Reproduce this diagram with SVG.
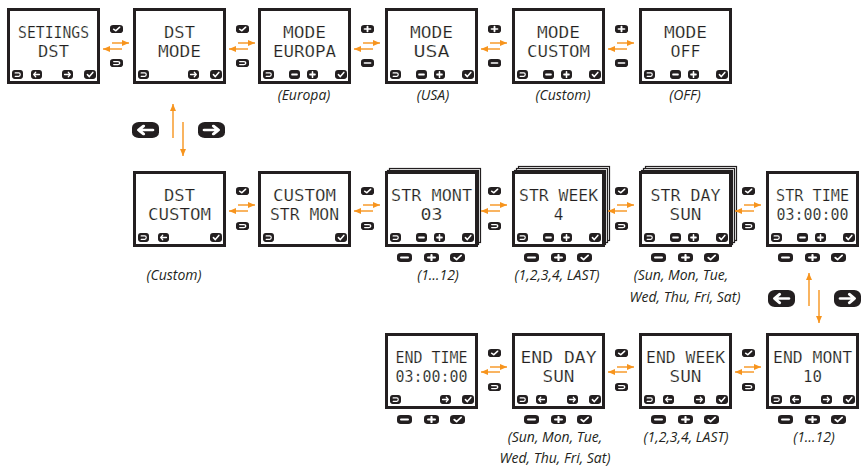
<svg xmlns="http://www.w3.org/2000/svg" width="863" height="468" viewBox="0 0 863 468">
<style>
.scr{fill:#fff;stroke:#231f20;stroke-width:3}
.lay{fill:#fff;stroke:#231f20;stroke-width:1.2}
.lcd{font-family:"DejaVu Sans Mono","Liberation Mono",monospace;font-size:16px;fill:#231f20;stroke:#fff;stroke-width:0.2;text-anchor:middle}
.lbl{font-family:"Open Sans","Liberation Sans",sans-serif;font-style:italic;font-size:14px;fill:#231f20;text-anchor:middle}
.ar{stroke:#F7941D;stroke-width:1.4;fill:none;marker-end:url(#ah)}
.wg{fill:none;stroke:#fff;stroke-linecap:round;stroke-linejoin:round}
</style>
<defs>
<marker id="ah" markerUnits="userSpaceOnUse" markerWidth="7" markerHeight="6" viewBox="0 0 7 6" refX="7" refY="3" orient="auto"><path d="M0,0 L7,3 L0,6 z" fill="#F7941D"/></marker>
<symbol id="i-back" viewBox="0 0 14 10" preserveAspectRatio="none"><rect width="14" height="10" rx="3.5" fill="#231f20"/><path class="wg" stroke-width="1.5" d="M4 3.2H8.6a1.9 1.9 0 0 1 0 3.8H4"/></symbol>
<symbol id="i-left" viewBox="0 0 14 10" preserveAspectRatio="none"><rect width="14" height="10" rx="3.5" fill="#231f20"/><path class="wg" stroke-width="1.6" d="M3.4 5H10.8M6 2.5 3.4 5 6 7.5"/></symbol>
<symbol id="i-right" viewBox="0 0 14 10" preserveAspectRatio="none"><rect width="14" height="10" rx="3.5" fill="#231f20"/><path class="wg" stroke-width="1.6" d="M3.2 5H10.6M8 2.5 10.6 5 8 7.5"/></symbol>
<symbol id="i-check" viewBox="0 0 14 10" preserveAspectRatio="none"><rect width="14" height="10" rx="3.5" fill="#231f20"/><path class="wg" stroke-width="1.8" d="M4 5.2 6.2 7.3 10.3 2.7"/></symbol>
<symbol id="i-minus" viewBox="0 0 14 10" preserveAspectRatio="none"><rect width="14" height="10" rx="3.5" fill="#231f20"/><path class="wg" stroke-width="2" d="M3.8 5H10.2"/></symbol>
<symbol id="i-plus" viewBox="0 0 14 10" preserveAspectRatio="none"><rect width="14" height="10" rx="3.5" fill="#231f20"/><path class="wg" stroke-width="2" d="M3.8 5H10.2M7 2V8"/></symbol>
</defs>

<!-- Row 1 -->
<g id="s1"><rect class="scr" x="8.5" y="9.5" width="90" height="73"/><text class="lcd" x="53.5" y="38" textLength="71" lengthAdjust="spacingAndGlyphs">SETIINGS</text><text class="lcd" x="53.5" y="57" textLength="31" lengthAdjust="spacingAndGlyphs">DST</text>
<use href="#i-back" x="12" y="70" width="11" height="9"/><use href="#i-left" x="31" y="70" width="11" height="9"/><use href="#i-right" x="62" y="70" width="11" height="9"/><use href="#i-check" x="84" y="70" width="12" height="9"/></g>
<g id="s2"><rect class="scr" x="134.5" y="9.5" width="90" height="73"/><text class="lcd" x="179.5" y="38" textLength="31" lengthAdjust="spacingAndGlyphs">DST</text><text class="lcd" x="179.5" y="57" textLength="43" lengthAdjust="spacingAndGlyphs">MODE</text>
<use href="#i-back" x="138" y="70" width="11" height="9"/><use href="#i-right" x="188" y="70" width="11" height="9"/><use href="#i-check" x="210" y="70" width="12" height="9"/></g>
<g id="s3"><rect class="scr" x="259.5" y="9.5" width="90" height="73"/><text class="lcd" x="304.5" y="38" textLength="43" lengthAdjust="spacingAndGlyphs">MODE</text><text class="lcd" x="304.5" y="57" textLength="63" lengthAdjust="spacingAndGlyphs">EUROPA</text>
<use href="#i-back" x="263" y="70" width="11" height="9"/><use href="#i-minus" x="289" y="70" width="11" height="9"/><use href="#i-plus" x="307" y="70" width="11" height="9"/><use href="#i-check" x="335" y="70" width="12" height="9"/>
<text class="lbl" x="304" y="100">(Europa)</text></g>
<g id="s4"><rect class="scr" x="386.5" y="9.5" width="90" height="73"/><text class="lcd" x="431.5" y="38" textLength="43" lengthAdjust="spacingAndGlyphs">MODE</text><text class="lcd" x="431.5" y="57" textLength="36" lengthAdjust="spacingAndGlyphs">USA</text>
<use href="#i-back" x="390" y="70" width="11" height="9"/><use href="#i-minus" x="416" y="70" width="11" height="9"/><use href="#i-plus" x="434" y="70" width="11" height="9"/><use href="#i-check" x="462" y="70" width="12" height="9"/>
<text class="lbl" x="433" y="100">(USA)</text></g>
<g id="s5"><rect class="scr" x="513.5" y="9.5" width="90" height="73"/><text class="lcd" x="558.5" y="38" textLength="43" lengthAdjust="spacingAndGlyphs">MODE</text><text class="lcd" x="558.5" y="57" textLength="63" lengthAdjust="spacingAndGlyphs">CUSTOM</text>
<use href="#i-back" x="517" y="70" width="11" height="9"/><use href="#i-minus" x="543" y="70" width="11" height="9"/><use href="#i-plus" x="561" y="70" width="11" height="9"/><use href="#i-check" x="589" y="70" width="12" height="9"/>
<text class="lbl" x="563" y="100">(Custom)</text></g>
<g id="s6"><rect class="scr" x="640.5" y="9.5" width="90" height="73"/><text class="lcd" x="685.5" y="38" textLength="43" lengthAdjust="spacingAndGlyphs">MODE</text><text class="lcd" x="685.5" y="57" textLength="30" lengthAdjust="spacingAndGlyphs">OFF</text>
<use href="#i-back" x="644" y="70" width="11" height="9"/><use href="#i-minus" x="670" y="70" width="11" height="9"/><use href="#i-plus" x="688" y="70" width="11" height="9"/><use href="#i-check" x="716" y="70" width="12" height="9"/>
<text class="lbl" x="685" y="100">(OFF)</text></g>

<!-- Row 2 -->
<g id="s7"><rect class="scr" x="134.5" y="172.5" width="90" height="73"/><text class="lcd" x="179.5" y="201" textLength="31" lengthAdjust="spacingAndGlyphs">DST</text><text class="lcd" x="179.5" y="220" textLength="63" lengthAdjust="spacingAndGlyphs">CUSTOM</text>
<use href="#i-back" x="138" y="233" width="11" height="9"/><use href="#i-left" x="158" y="233" width="11" height="9"/><use href="#i-check" x="210" y="233" width="12" height="9"/>
<text class="lbl" x="174" y="280">(Custom)</text></g>
<g id="s8"><rect class="scr" x="259.5" y="172.5" width="90" height="73"/><text class="lcd" x="304.5" y="201" textLength="63" lengthAdjust="spacingAndGlyphs">CUSTOM</text><text class="lcd" x="304.5" y="220" textLength="69" lengthAdjust="spacingAndGlyphs">STR MON</text>
<use href="#i-back" x="263" y="233" width="11" height="9"/><use href="#i-check" x="335" y="233" width="12" height="9"/></g>
<g id="s9"><rect class="lay" x="389.5" y="168.5" width="91" height="74"/><rect class="lay" x="387.5" y="170.5" width="91" height="74"/>
<rect class="scr" x="386.5" y="172.5" width="90" height="73"/><text class="lcd" x="431.5" y="201" textLength="81" lengthAdjust="spacingAndGlyphs">STR MONT</text><text class="lcd" x="431.5" y="220" textLength="22" lengthAdjust="spacingAndGlyphs">03</text>
<use href="#i-back" x="390" y="233" width="11" height="9"/><use href="#i-minus" x="416" y="233" width="11" height="9"/><use href="#i-plus" x="434" y="233" width="11" height="9"/><use href="#i-check" x="462" y="233" width="12" height="9"/>
<use href="#i-minus" x="397" y="253" width="15" height="9"/><use href="#i-plus" x="424" y="253" width="15" height="9"/><use href="#i-check" x="450" y="253" width="15" height="9"/>
<text class="lbl" x="438" y="280">(1…12)</text></g>
<g id="s10"><rect class="lay" x="518.5" y="166.5" width="91" height="74"/><rect class="lay" x="516.5" y="168.5" width="91" height="74"/><rect class="lay" x="514.5" y="170.5" width="91" height="74"/>
<rect class="scr" x="513.5" y="172.5" width="90" height="73"/><text class="lcd" x="558.5" y="201" textLength="79" lengthAdjust="spacingAndGlyphs">STR WEEK</text><text class="lcd" x="558.5" y="220">4</text>
<use href="#i-back" x="517" y="233" width="11" height="9"/><use href="#i-minus" x="543" y="233" width="11" height="9"/><use href="#i-plus" x="561" y="233" width="11" height="9"/><use href="#i-check" x="589" y="233" width="12" height="9"/>
<use href="#i-minus" x="524" y="253" width="15" height="9"/><use href="#i-plus" x="551" y="253" width="15" height="9"/><use href="#i-check" x="577" y="253" width="15" height="9"/>
<text class="lbl" x="557" y="280">(1,2,3,4, LAST)</text></g>
<g id="s11"><rect class="lay" x="645.5" y="166.5" width="91" height="74"/><rect class="lay" x="643.5" y="168.5" width="91" height="74"/><rect class="lay" x="641.5" y="170.5" width="91" height="74"/>
<rect class="scr" x="640.5" y="172.5" width="90" height="73"/><text class="lcd" x="685.5" y="201" textLength="70" lengthAdjust="spacingAndGlyphs">STR DAY</text><text class="lcd" x="685.5" y="220" textLength="32" lengthAdjust="spacingAndGlyphs">SUN</text>
<use href="#i-back" x="644" y="233" width="11" height="9"/><use href="#i-minus" x="670" y="233" width="11" height="9"/><use href="#i-plus" x="688" y="233" width="11" height="9"/><use href="#i-check" x="716" y="233" width="12" height="9"/>
<use href="#i-minus" x="651" y="253" width="15" height="9"/><use href="#i-plus" x="678" y="253" width="15" height="9"/><use href="#i-check" x="704" y="253" width="15" height="9"/>
<text class="lbl"><tspan x="681" y="280">(Sun, Mon, Tue,</tspan><tspan x="685" y="302">Wed, Thu, Fri, Sat)</tspan></text></g>
<g id="s12"><rect class="scr" x="767.5" y="172.5" width="90" height="73"/><text class="lcd" x="812.5" y="201" textLength="73" lengthAdjust="spacingAndGlyphs">STR TIME</text><text class="lcd" x="812.5" y="220" textLength="72" lengthAdjust="spacingAndGlyphs">03:00:00</text>
<use href="#i-back" x="771" y="233" width="11" height="9"/><use href="#i-minus" x="797" y="233" width="11" height="9"/><use href="#i-plus" x="815" y="233" width="11" height="9"/><use href="#i-check" x="843" y="233" width="12" height="9"/>
<use href="#i-minus" x="778" y="253" width="15" height="9"/><use href="#i-plus" x="805" y="253" width="15" height="9"/><use href="#i-check" x="831" y="253" width="15" height="9"/></g>

<!-- Row 3 -->
<g id="s13"><rect class="scr" x="386.5" y="334.5" width="90" height="73"/><text class="lcd" x="431.5" y="363" textLength="72" lengthAdjust="spacingAndGlyphs">END TIME</text><text class="lcd" x="431.5" y="382" textLength="72" lengthAdjust="spacingAndGlyphs">03:00:00</text>
<use href="#i-back" x="390" y="395" width="11" height="9"/><use href="#i-right" x="440" y="395" width="11" height="9"/><use href="#i-check" x="462" y="395" width="12" height="9"/>
<use href="#i-minus" x="397" y="415" width="15" height="9"/><use href="#i-plus" x="424" y="415" width="15" height="9"/><use href="#i-check" x="450" y="415" width="15" height="9"/></g>
<g id="s14"><rect class="scr" x="513.5" y="334.5" width="90" height="73"/><text class="lcd" x="558.5" y="363" textLength="76" lengthAdjust="spacingAndGlyphs">END DAY</text><text class="lcd" x="558.5" y="382" textLength="32" lengthAdjust="spacingAndGlyphs">SUN</text>
<use href="#i-back" x="517" y="395" width="11" height="9"/><use href="#i-left" x="536" y="395" width="11" height="9"/><use href="#i-right" x="567" y="395" width="11" height="9"/><use href="#i-check" x="589" y="395" width="12" height="9"/>
<use href="#i-minus" x="524" y="415" width="15" height="9"/><use href="#i-plus" x="551" y="415" width="15" height="9"/><use href="#i-check" x="577" y="415" width="15" height="9"/>
<text class="lbl"><tspan x="555" y="442">(Sun, Mon, Tue,</tspan><tspan x="555" y="463">Wed, Thu, Fri, Sat)</tspan></text></g>
<g id="s15"><rect class="scr" x="640.5" y="334.5" width="90" height="73"/><text class="lcd" x="685.5" y="363" textLength="79" lengthAdjust="spacingAndGlyphs">END WEEK</text><text class="lcd" x="685.5" y="382" textLength="32" lengthAdjust="spacingAndGlyphs">SUN</text>
<use href="#i-back" x="644" y="395" width="11" height="9"/><use href="#i-left" x="663" y="395" width="11" height="9"/><use href="#i-right" x="694" y="395" width="11" height="9"/><use href="#i-check" x="716" y="395" width="12" height="9"/>
<use href="#i-minus" x="651" y="415" width="15" height="9"/><use href="#i-plus" x="678" y="415" width="15" height="9"/><use href="#i-check" x="704" y="415" width="15" height="9"/>
<text class="lbl" x="686" y="442">(1,2,3,4, LAST)</text></g>
<g id="s16"><rect class="scr" x="767.5" y="334.5" width="90" height="73"/><text class="lcd" x="812.5" y="363" textLength="79" lengthAdjust="spacingAndGlyphs">END MONT</text><text class="lcd" x="812.5" y="382" textLength="19" lengthAdjust="spacingAndGlyphs">10</text>
<use href="#i-back" x="771" y="395" width="11" height="9"/><use href="#i-left" x="790" y="395" width="11" height="9"/><use href="#i-right" x="821" y="395" width="11" height="9"/><use href="#i-check" x="843" y="395" width="12" height="9"/>
<use href="#i-minus" x="778" y="415" width="15" height="9"/><use href="#i-plus" x="805" y="415" width="15" height="9"/><use href="#i-check" x="831" y="415" width="15" height="9"/>
<text class="lbl" x="814" y="442">(1…12)</text></g>

<!-- key icons between screens and nav buttons -->
<g id="keys">
<use href="#i-check" x="110" y="25" width="13" height="8"/><use href="#i-back" x="110" y="59" width="13" height="8"/>
<use href="#i-check" x="236" y="25" width="13" height="8"/><use href="#i-back" x="236" y="59" width="13" height="8"/>
<use href="#i-plus" x="361" y="25" width="13" height="8"/><use href="#i-minus" x="361" y="59" width="13" height="8"/>
<use href="#i-plus" x="488" y="25" width="13" height="8"/><use href="#i-minus" x="488" y="59" width="13" height="8"/>
<use href="#i-plus" x="615" y="25" width="13" height="8"/><use href="#i-minus" x="615" y="59" width="13" height="8"/>
<use href="#i-check" x="236" y="187" width="13" height="8"/><use href="#i-back" x="236" y="222" width="13" height="8"/>
<use href="#i-check" x="361" y="187" width="13" height="8"/><use href="#i-back" x="361" y="222" width="13" height="8"/>
<use href="#i-check" x="488" y="187" width="13" height="8"/><use href="#i-back" x="488" y="222" width="13" height="8"/>
<use href="#i-check" x="615" y="187" width="13" height="8"/><use href="#i-back" x="615" y="222" width="13" height="8"/>
<use href="#i-check" x="742" y="187" width="13" height="8"/><use href="#i-back" x="742" y="222" width="13" height="8"/>
<use href="#i-check" x="488" y="349" width="13" height="8"/><use href="#i-back" x="488" y="383" width="13" height="8"/>
<use href="#i-check" x="615" y="349" width="13" height="8"/><use href="#i-back" x="615" y="383" width="13" height="8"/>
<use href="#i-check" x="742" y="349" width="13" height="8"/><use href="#i-back" x="742" y="383" width="13" height="8"/>
<use href="#i-left" x="132" y="122" width="27" height="16"/><use href="#i-right" x="198" y="122" width="27" height="16"/>
<use href="#i-left" x="768" y="290" width="27" height="17"/><use href="#i-right" x="834" y="290" width="27" height="17"/>
</g>

<!-- connectors -->
<g id="connectors">
<path class="ar" d="M112 43H129"/><path class="ar" d="M122 49H103"/>
<path class="ar" d="M238 43H255"/><path class="ar" d="M248 49H229"/>
<path class="ar" d="M363 43H380"/><path class="ar" d="M373 49H354"/>
<path class="ar" d="M490 43H507"/><path class="ar" d="M500 49H481"/>
<path class="ar" d="M617 43H634"/><path class="ar" d="M627 49H608"/>
<path class="ar" d="M173 138V104"/><path class="ar" d="M183 122V156"/>
<path class="ar" d="M238 205H255"/><path class="ar" d="M248 211H229"/>
<path class="ar" d="M363 205H380"/><path class="ar" d="M373 211H354"/>
<path class="ar" d="M490 205H507"/><path class="ar" d="M500 211H481"/>
<path class="ar" d="M617 205H634"/><path class="ar" d="M627 211H608"/>
<path class="ar" d="M744 205H761"/><path class="ar" d="M754 211H735"/>
<path class="ar" d="M809 306V273"/><path class="ar" d="M819 290V323"/>
<path class="ar" d="M490 367H507"/><path class="ar" d="M500 372H481"/>
<path class="ar" d="M617 367H634"/><path class="ar" d="M627 372H608"/>
<path class="ar" d="M744 367H761"/><path class="ar" d="M754 372H735"/>
</g>
</svg>
